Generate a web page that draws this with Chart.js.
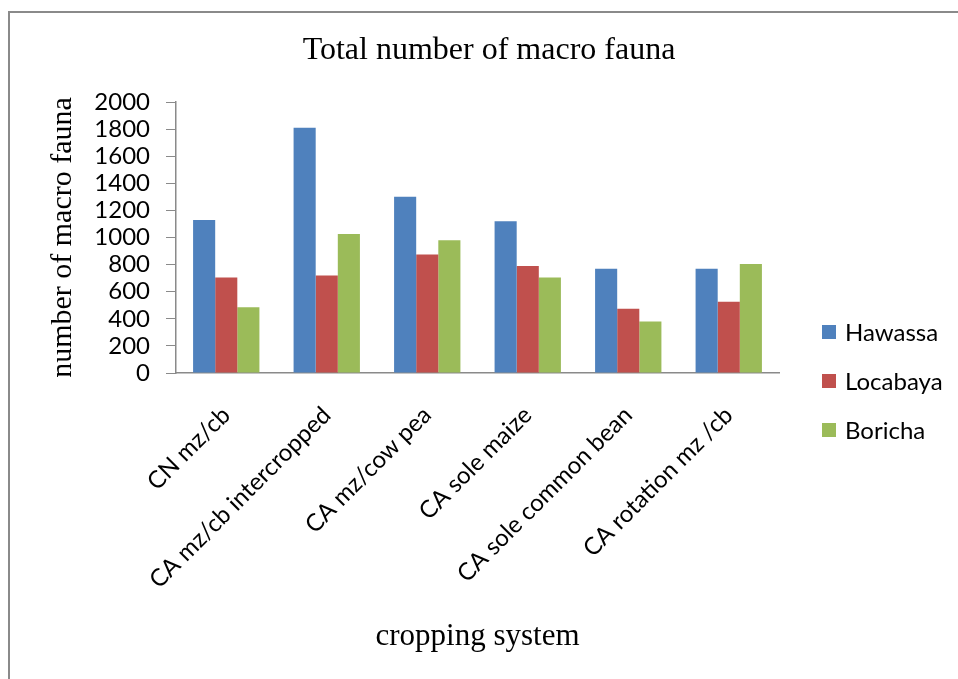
<!doctype html>
<html lang="en">
<head>
    <meta charset="utf-8">
    <title>Total number of macro fauna</title>
    <style>
        html, body { margin: 0; padding: 0; background: #fff; }
    </style>
</head>
<body>
    <canvas id="myChart" width="958" height="679"></canvas>

    <script src="https://cdn.jsdelivr.net/npm/chart.js"></script>
    <script>
        // data
        const categories = ['CN mz/cb', 'CA mz/cb intercropped', 'CA mz/cow pea', 'CA sole maize', 'CA sole common bean', 'CA rotation mz /cb'];
        const hawassa = [1130, 1810, 1300, 1120, 770, 770];
        const locabaya = [705, 720, 875, 790, 475, 525];
        const boricha = [485, 1025, 980, 705, 380, 805];
        const seriesNames = ['Hawassa', 'Locabaya', 'Boricha'];
        const seriesColors = ['#4F81BD', '#C0504D', '#9BBB59'];
        const yTicks = [0, 200, 400, 600, 800, 1000, 1200, 1400, 1600, 1800, 2000];

        const serif = 'Liberation Serif';
        const sans = 'Lato';

        const data = {
            labels: categories,
            datasets: [hawassa, locabaya, boricha].map((vals, i) => ({
                label: seriesNames[i],
                data: vals,
                backgroundColor: seriesColors[i],
                borderWidth: 0,
                categoryPercentage: 0.66,
                barPercentage: 1.0
            }))
        };

        // white page with the grey frame round it
        const framePlugin = {
            id: 'frame',
            beforeDraw: (chart) => {
                const ctx = chart.ctx;
                ctx.save();
                ctx.fillStyle = '#fff';
                ctx.fillRect(0, 0, chart.width, chart.height);
                ctx.strokeStyle = '#8a8a8a';
                ctx.lineWidth = 2;
                ctx.strokeRect(9, 12, chart.width + 20, chart.height + 20);
                ctx.restore();
            }
        };

        // legend on the right, drawn by hand so it can sit low like the original
        const sideLegend = {
            id: 'sideLegend',
            afterDraw: (chart) => {
                const ctx = chart.ctx;
                ctx.save();
                ctx.font = '24px ' + sans;
                ctx.textBaseline = 'middle';
                chart.data.datasets.forEach((ds, i) => {
                    const y = 332 + i * 49;
                    ctx.fillStyle = ds.backgroundColor;
                    ctx.fillRect(822, y - 7, 14, 14);
                    ctx.fillStyle = '#000';
                    ctx.fillText(ds.label, 845, y + 1);
                });
                ctx.restore();
            }
        };

        const config = {
            type: 'bar',
            data,
            plugins: [framePlugin, sideLegend],
            options: {
                responsive: false,
                animation: false,
                layout: { padding: { left: 20, right: 0, top: 0, bottom: 0 } },
                plugins: {
                    legend: { display: false },
                    tooltip: { enabled: false },
                    title: {
                        display: true,
                        text: 'Total number of macro fauna',
                        color: '#000',
                        font: { family: serif, size: 32, weight: 'normal' },
                        padding: { top: 31, bottom: 32.6 }
                    }
                },
                scales: {
                    x: {
                        afterFit: (scale) => { scale.height = 306; },
                        ticks: {
                            minRotation: 45,
                            maxRotation: 45,
                            autoSkip: false,
                            padding: 28,
                            color: '#000',
                            font: { family: sans, size: 24 }
                        },
                        grid: { display: false, drawTicks: false },
                        border: { display: true, color: '#8a8a8a', width: 1.5 },
                        title: {
                            display: true,
                            text: 'cropping system',
                            color: '#000',
                            font: { family: serif, size: 31 },
                            padding: { top: 0, bottom: 24 }
                        }
                    },
                    y: {
                        min: 0,
                        max: 2000,
                        afterFit: (scale) => { scale.width = 156; },
                        afterBuildTicks: (axis) => { axis.ticks = yTicks.map(v => ({ value: v })); },
                        ticks: {
                            autoSkip: false,
                            padding: 16,
                            color: '#000',
                            font: { family: sans, size: 24 },
                            callback: (v) => String(v)
                        },
                        grid: { drawOnChartArea: false, drawTicks: true, tickLength: 10, color: '#8a8a8a' },
                        border: { display: true, color: '#8a8a8a', width: 1.5 },
                        title: {
                            display: true,
                            text: 'number of macro fauna',
                            color: '#000',
                            font: { family: serif, size: 30 },
                            padding: { top: 25, bottom: 0 }
                        }
                    },
                    // empty right-hand axis that only keeps room for the legend
                    side: {
                        position: 'right',
                        display: true,
                        afterFit: (scale) => { scale.width = 179; },
                        ticks: { display: false },
                        grid: { display: false, drawTicks: false },
                        border: { display: false }
                    }
                }
            }
        };

        const myChart = new Chart(document.getElementById('myChart'), config);
    </script>
</body>
</html>
